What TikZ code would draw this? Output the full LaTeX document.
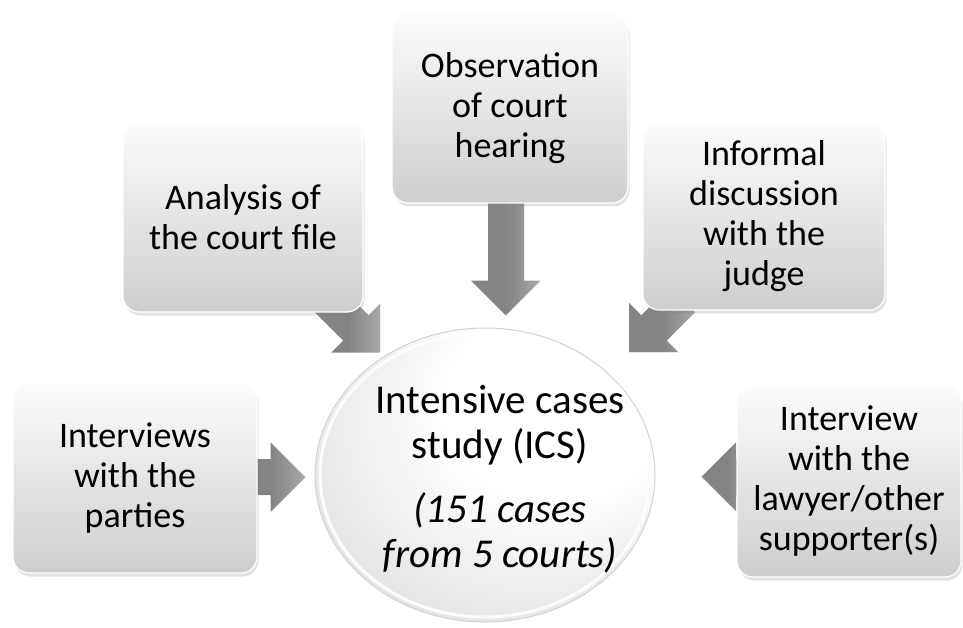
\documentclass[tikz,border=0pt]{standalone}
\usepackage{fontspec}
\setmainfont{Carlito}
\usetikzlibrary{shapes.geometric,shadows,calc}
\definecolor{boxtop}{RGB}{252,252,252}
\definecolor{boxbot}{RGB}{206,206,206}
\definecolor{arrowc}{RGB}{132,132,132}
\definecolor{arrowl}{RGB}{168,168,168}
\pgfdeclareradialshading{ellsh}{\pgfpoint{14bp}{16bp}}{color(0bp)=(white); color(16bp)=(white); color(42bp)=(gray!30); color(60bp)=(gray!50)}
\pgfdeclarelayer{back}
\pgfdeclarelayer{bg}
\pgfsetlayers{back,bg,main}
\newcommand\blockarr[3]{%
  \begin{scope}[shift={(#1)},rotate=#2]
    \shade[arrowsty] (0,-18) -- ({#3-35},-18) -- ({#3-35},-35) -- (#3,0) -- ({#3-35},35) -- ({#3-35},18) -- (0,18) -- cycle;
    \draw[white, opacity=0.7, line width=0.8pt] ({#3-35},-35) -- (#3,0);
  \end{scope}}
\tikzset{
  srcbox/.style={rectangle, rounded corners=16pt, top color=boxtop, bottom color=boxbot,
    draw=white, line width=1.2pt, align=center, inner sep=4pt,
    font=\fontsize{36}{40}\selectfont,
    drop shadow={opacity=0.22, shadow xshift=1.5pt, shadow yshift=-3.5pt}},
  arrowsty/.style={left color=arrowc, right color=arrowl, middle color=arrowc},
  hubshape/.style={ellipse, draw=gray!35, line width=1pt, shading=ellsh,
    minimum width=340pt, minimum height=294pt, inner sep=0pt},
  hubtext/.style={align=center, font=\fontsize{41}{45}\selectfont, inner sep=0pt}
}
\begin{document}
\begin{tikzpicture}[x=1pt,y=-1pt]
\begin{pgfonlayer}{back}
\fill[white] (0,0) rectangle (963,628);
\end{pgfonlayer}
\useasboundingbox (0,0) rectangle (963,628);
% hub
\node[hubshape] (ics) at (485,475) {};
\draw[white, line width=3pt, opacity=0.85] (ics.center) ellipse [x radius=165, y radius=142];
\node[hubtext] (icstext) at (500,479) {Intensive cases\\study (ICS)\\[19pt]\textit{(151 cases}\\\textit{from 5 courts)}};
% source boxes
\node[srcbox, minimum width=236pt, minimum height=190pt] (obs) at (510,108) {Observation\\of court\\hearing};
\node[srcbox, minimum width=240pt, minimum height=190pt] (ana) at (243,217) {Analysis of\\the court file};
\node[srcbox, minimum width=242pt, minimum height=188pt] (inf) at (764,216) {Informal\\discussion\\with the\\judge};
\node[srcbox, minimum width=244pt, minimum height=190pt] (par) at (135,478) {Interviews\\with the\\parties};
\node[srcbox, minimum width=224pt, minimum height=192pt] (law) at (849,481) {Interview\\with the\\lawyer/other\\supporter(s)};
% arrow start points
\coordinate (s1) at ($(obs.south)+(-4,-12)$);
\coordinate (s2) at ($(ana.south east)+(-36,-13)$);
\coordinate (s3) at ($(inf.south west)+(40,-11)$);
\coordinate (s4) at ($(par.east)+(-20,-1)$);
\coordinate (s5) at ($(law.west)+(20,-4)$);
\begin{pgfonlayer}{bg}
\blockarr{s1}{-90}{124}
\blockarr{s2}{-45}{75}
\blockarr{s3}{-135}{75}
\blockarr{s4}{0}{68}
\blockarr{s5}{180}{55}
\end{pgfonlayer}
\end{tikzpicture}
\end{document}
